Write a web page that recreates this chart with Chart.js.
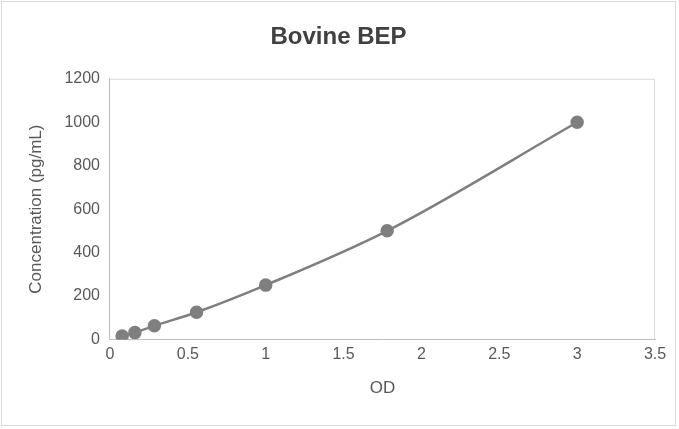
<!DOCTYPE html>
<html><head><meta charset="utf-8">
<script src="https://cdn.jsdelivr.net/npm/chart.js@4"></script>
<style>html,body{margin:0;padding:0;background:#fff}
#wrap{position:absolute;left:1px;top:1px;width:675px;height:425px;border:1px solid #d9d9d9;box-sizing:border-box}</style>
</head><body><div id="wrap"><canvas id="c"></canvas></div>
<script>
const odValues = [0.078, 0.16, 0.285, 0.556, 1.0, 1.78, 3.0];
const concValues = [15.6, 31.25, 62.5, 125, 250, 500, 1000];
const titleText = 'Bovine BEP';
const xTitle = 'OD';
const yTitle = 'Concentration (pg/mL)';

const frame = {id:'frame', afterDraw(ch){const a=ch.chartArea,c=ch.ctx;c.save();c.strokeStyle='#d9d9d9';c.lineWidth=1;
c.beginPath();c.moveTo(a.left,a.top+0.5);c.lineTo(a.right-0.5,a.top+0.5);c.lineTo(a.right-0.5,a.bottom);c.stroke();c.restore();}};

new Chart(document.getElementById('c'),{
type:'scatter',
data:{datasets:[{data:odValues.map((x,i)=>({x,y:concValues[i]})),showLine:true,
borderColor:'#7f7f7f',backgroundColor:'#7f7f7f',borderWidth:2.5,pointRadius:5.5,pointHoverRadius:5.5,
cubicInterpolationMode:'monotone'}]},
options:{responsive:true,maintainAspectRatio:false,animation:false,
layout:{padding:{left:20,right:20,top:17,bottom:22}},
plugins:{legend:{display:false},tooltip:{enabled:false},
title:{display:true,text:titleText,color:'#404040',font:{family:'Arial, Liberation Sans',size:24,weight:'bold'},padding:{top:4,bottom:27}}},
scales:{
x:{type:'linear',min:0,max:3.5,ticks:{stepSize:0.5,color:'#595959',font:{family:'Liberation Sans',size:16},padding:6,callback:v=>String(v)},
grid:{display:false,drawTicks:false},border:{color:'#bfbfbf'},
title:{display:true,text:xTitle,color:'#595959',font:{family:'Liberation Sans',size:17},padding:{top:8}}},
y:{min:0,max:1200,ticks:{stepSize:200,color:'#595959',font:{family:'Liberation Sans',size:16},padding:10,callback:v=>String(v)},
grid:{display:false,drawTicks:false},border:{color:'#bfbfbf'},
title:{display:true,text:yTitle,color:'#595959',font:{family:'Liberation Sans',size:17},padding:{bottom:8}}}}},
plugins:[frame]});
</script></body></html>
